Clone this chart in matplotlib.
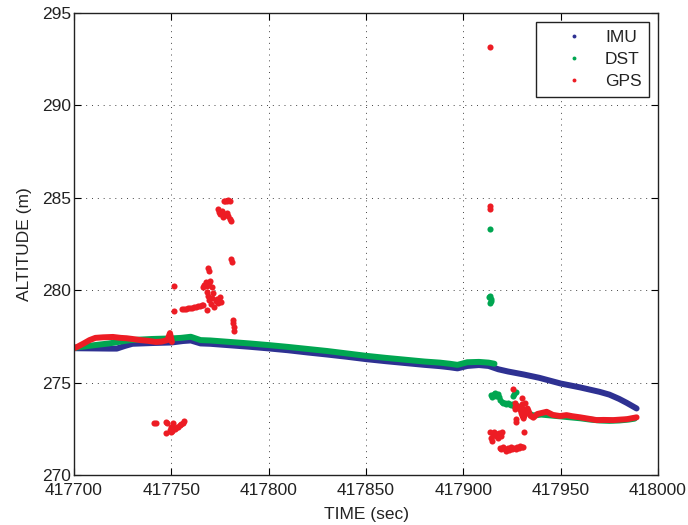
import matplotlib
matplotlib.use("Agg")
import matplotlib.pyplot as plt
from matplotlib.lines import Line2D

plt.rcParams['font.family'] = ['Liberation Sans', 'DejaVu Sans']

## DATA BELOW HERE
IMU_COLOR = "#2e3192"
DST_COLOR = "#00a651"
GPS_COLOR = "#ed1c24"

# IMU altitude track
imu_t = [417700, 417710, 417718, 417722, 417726, 417730, 417740, 417750, 417756, 417760,
         417765, 417770, 417780, 417790, 417800, 417810, 417820, 417830, 417840, 417850,
         417860, 417870, 417880, 417888, 417893, 417897, 417902, 417908, 417913, 417918,
         417923, 417931, 417939, 417950, 417960, 417970, 417975, 417980, 417984, 417989]
imu_alt = [276.86, 276.85, 276.84, 276.84, 276.98, 277.1, 277.14, 277.17, 277.25, 277.28,
           277.12, 277.1, 277.02, 276.94, 276.85, 276.75, 276.63, 276.52, 276.4, 276.27,
           276.16, 276.06, 275.96, 275.89, 275.83, 275.77, 275.9, 275.95, 275.9, 275.72,
           275.6, 275.44, 275.26, 274.95, 274.74, 274.5, 274.35, 274.12, 273.9, 273.6]

# DST altitude track (before dropout) and afterwards
dst_t = [417700, 417705, 417710, 417718, 417724, 417729, 417740, 417750, 417755, 417760,
         417765, 417770, 417780, 417790, 417800, 417810, 417820, 417830, 417840, 417850,
         417860, 417870, 417880, 417888, 417893, 417897, 417902, 417908, 417913, 417916]
dst_alt = [276.88, 276.95, 277.02, 277.12, 277.22, 277.3, 277.36, 277.39, 277.42, 277.48,
           277.3, 277.28, 277.2, 277.12, 277.03, 276.93, 276.82, 276.71, 276.58, 276.45,
           276.34, 276.24, 276.14, 276.08, 276.02, 275.96, 276.1, 276.12, 276.08, 276.02]
dst_t2 = [417929, 417932, 417936, 417940, 417945, 417950, 417955, 417960, 417965, 417970,
          417975, 417980, 417985, 417988]
dst_alt2 = [273.6, 273.4, 273.22, 273.27, 273.22, 273.17, 273.12, 273.07, 273.0, 272.95,
            272.93, 272.95, 273.0, 273.05]
dst_pt_t = [417913.6, 417913.2, 417913.6, 417914.0, 417914.3, 417913.8, 417914.2, 417914.8,
            417915.5, 417916.3, 417917.0, 417917.6, 417918.3, 417919.0, 417919.8, 417920.4,
            417921.2, 417922.0, 417922.8, 417923.6, 417924.4, 417925.2, 417926.0, 417926.8,
            417927.6, 417925.6, 417926.2, 417926.8, 417928.4, 417929.2]
dst_pt_alt = [283.32, 279.62, 279.7, 279.5, 279.42, 279.3, 274.35, 274.2, 274.4, 274.45,
              274.3, 274.38, 274.2, 274.05, 273.95, 273.9, 273.92, 273.85, 273.9, 273.82,
              273.78, 273.85, 273.75, 273.8, 273.72, 274.25, 274.4, 274.5, 273.7, 273.65]

# GPS altitude track pieces and scattered fixes
gps_t = [417700, 417702, 417705, 417708, 417711, 417715, 417720, 417724, 417727, 417730,
         417734, 417738, 417742, 417745, 417748, 417749.3, 417750.3]
gps_alt = [276.86, 276.95, 277.12, 277.3, 277.42, 277.45, 277.47, 277.42, 277.4, 277.36,
           277.3, 277.26, 277.2, 277.22, 277.3, 277.68, 277.2]
gps_t2 = [417929, 417930, 417931, 417932, 417933, 417934.5, 417936, 417938, 417940, 417942.8,
          417946, 417949.7, 417953, 417956, 417960, 417964, 417968.5, 417972, 417977, 417981,
          417984, 417987, 417989]
gps_alt2 = [273.7, 273.3, 273.05, 273.5, 273.6, 273.2, 273.1, 273.3, 273.35, 273.42,
            273.25, 273.19, 273.24, 273.18, 273.12, 273.05, 272.97, 272.98, 272.97, 273.0,
            273.02, 273.08, 273.12]
gps_pt_t = [417741.2, 417742.0, 417747.2, 417748.0, 417747.3, 417749.3, 417750.0, 417750.5,
            417751.3, 417752.0, 417752.8, 417753.5, 417754.3, 417755.0, 417755.8, 417756.5,
            417750.8, 417749.8,
            417751.4, 417751.4,
            417755.5, 417756.5, 417757.5, 417758.5, 417759.5, 417760.5, 417761.5, 417762.5,
            417763.5, 417764.5, 417765.5, 417766.4, 417768.2,
            417766.3, 417767.0, 417767.8, 417768.5, 417769.2, 417770.0, 417770.8,
            417768.5, 417769.0, 417769.5, 417770.2, 417770.8, 417771.5, 417772.0,
            417772.8, 417773.5, 417774.2, 417775.0, 417775.6,
            417769.0, 417769.6, 417780.4, 417781.0,
            417781.6, 417781.8, 417782.0, 417782.2,
            417776.8, 417777.6, 417778.4, 417779.2, 417780.0,
            417774.0, 417774.6, 417775.2, 417775.8, 417776.5, 417777.2,
            417778.5, 417779.2, 417780.0, 417780.8,
            417913.7, 417913.6, 417913.8,
            417913.8, 417914.3, 417914.8, 417915.3, 417916.0, 417916.6, 417917.2, 417917.8,
            417918.5, 417919.2, 417919.8,
            417918.8, 417919.6, 417920.4, 417921.2, 417922.0, 417922.8, 417923.6, 417924.4,
            417925.2, 417926.0, 417926.8, 417927.6, 417928.4, 417929.2, 417930.0, 417930.8,
            417931.2,
            417925.7, 417926.5, 417926.5, 417926.6, 417927.0, 417927.0, 417930.0, 417930.0,
            417930.2, 417931.7]
gps_pt_alt = [272.82, 272.8, 272.85, 272.82, 272.28, 272.45, 272.6, 272.38,
              272.55, 272.48, 272.62, 272.58, 272.7, 272.75, 272.82, 272.9,
              272.8, 272.3,
              280.22, 278.87,
              278.96, 278.98, 279.0, 279.02, 279.03, 279.05, 279.08, 279.1,
              279.12, 279.15, 279.18, 279.22, 278.93,
              280.15, 280.3, 280.42, 280.25, 280.38, 280.48, 280.2,
              279.9, 279.7, 279.45, 279.25, 279.6, 279.85, 279.1,
              279.4, 279.55, 279.3, 279.62, 279.35,
              281.2, 281.05, 281.7, 281.55,
              278.4, 278.2, 278.0, 277.8,
              284.8, 284.85, 284.82, 284.86, 284.8,
              284.4, 284.25, 284.1, 284.3, 283.95, 284.15,
              284.2, 284.0, 283.85, 283.72,
              293.15, 284.55, 284.4,
              272.3, 272.0, 271.85, 272.15, 272.35, 272.1, 272.2, 272.0,
              272.25, 272.1, 272.3,
              271.45, 271.38, 271.5, 271.42, 271.3, 271.45, 271.35, 271.5,
              271.42, 271.48, 271.4, 271.52, 271.45, 271.55, 271.5, 271.52,
              272.3,
              274.67, 273.9, 273.7, 273.55, 273.05, 272.85, 274.15, 273.85,
              273.6, 273.9]

x_ticks = [417700, 417750, 417800, 417850, 417900, 417950, 418000]
y_ticks = [270, 275, 280, 285, 290, 295]
## DATA ABOVE HERE

fig = plt.figure(figsize=(6.88, 5.25), dpi=100)
ax = fig.add_axes([74 / 688, 50 / 525, 584 / 688, 462 / 525])

track = dict(lw=4.3, solid_capstyle="round", solid_joinstyle="round")
dots = dict(ls="none", marker="o", ms=4.4, mew=0)

ax.plot(imu_t, imu_alt, color=IMU_COLOR, **track)
ax.plot(dst_t, dst_alt, color=DST_COLOR, **track)
ax.plot(dst_t2, dst_alt2, color=DST_COLOR, **track)
ax.plot(dst_pt_t, dst_pt_alt, color=DST_COLOR, **dots)
ax.plot(gps_t, gps_alt, color=GPS_COLOR, **track)
ax.plot(gps_t2, gps_alt2, color=GPS_COLOR, **track)
ax.plot(gps_pt_t, gps_pt_alt, color=GPS_COLOR, **dots)

ax.set_xlim(417700, 418000)
ax.set_ylim(270, 295)
ax.set_xticks(x_ticks)
ax.set_yticks(y_ticks)
ax.ticklabel_format(useOffset=False, style="plain")
ax.tick_params(direction="in", top=True, right=True, length=5, width=0.8,
               labelsize=12.5, labelcolor="#222222", pad=2)
ax.tick_params(axis="x", pad=6)
ax.grid(True, color="#444444", linestyle=(0, (1, 5)), linewidth=0.7)
ax.set_axisbelow(True)
for s in ax.spines.values():
    s.set_linewidth(1.0)
    s.set_color("#222222")

ax.set_xlabel("TIME (sec)", fontsize=12.5, color="#222222", labelpad=6)
ax.set_ylabel("ALTITUDE (m)", fontsize=12.5, color="#222222", labelpad=7)

handles = [Line2D([], [], ls="none", marker="o", ms=2.8, mew=0, color=c)
           for c in (IMU_COLOR, DST_COLOR, GPS_COLOR)]
leg = ax.legend(handles, ["IMU", "DST", "GPS"], loc="upper right", fontsize=12.5,
                fancybox=False, framealpha=1, edgecolor="#222222", borderpad=0.45,
                labelspacing=0.4, handlelength=3.4, handletextpad=0.1,
                borderaxespad=0.5)
leg.get_frame().set_linewidth(1.0)
for t in leg.get_texts():
    t.set_color("#222222")

fig.savefig("out.png", dpi=100)
